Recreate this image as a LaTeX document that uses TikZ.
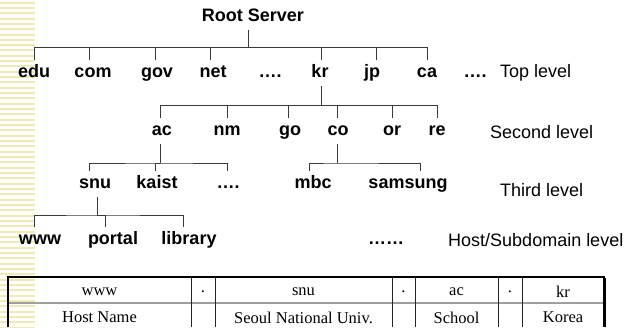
\documentclass[tikz,border=0pt]{standalone}
\usepackage{fontspec}
\setmainfont{Liberation Serif}
\setsansfont{Liberation Sans}
\usepackage{tikz}
\usetikzlibrary{arrows,positioning,calc}

\definecolor{stripe}{HTML}{EEEAB2}
\definecolor{treeline}{HTML}{3A3A3A}

\begin{document}
\begin{tikzpicture}[x=1pt,y=-1pt,
	dom/.style={font=\sffamily\bfseries\fontsize{18}{20}\selectfont, text height=13pt, text depth=4pt, inner xsep=1pt, inner ysep=4pt},
	lvl/.style={font=\sffamily\fontsize{18}{20}\selectfont, anchor=west, inner sep=0pt},
	cell/.style={font=\fontsize{16.5}{18}\selectfont, inner sep=0pt},
	branch/.style={draw=treeline, line width=0.9pt}]

		\useasboundingbox (0,0) rectangle (628,327);
		% striped margin
		\foreach \i in {0,...,61}
			\fill[stripe] (0,{1.5+\i*5.333}) rectangle (35,{3.5+\i*5.333});

		\node[dom] (root) at (253,17) {Root Server};

		% top level
		\node[dom] (edu) at (34,73) {edu};
		\node[dom] (com) at (93,73) {com};
		\node[dom] (gov) at (157,73) {gov};
		\node[dom] (net) at (213,73) {net};
		\node[dom] (dotsA) at (270,73) {….};
		\node[dom] (kr) at (320,73) {kr};
		\node[dom] (jp) at (372,73) {jp};
		\node[dom] (ca) at (427,73) {ca};
		\node[dom] (dotsB) at (475,73) {….};
		\node[lvl] (topLvl) at (500,73) {Top level};

		% second level
		\node[dom] (ac) at (162,131) {ac};
		\node[dom] (nm) at (227,131) {nm};
		\node[dom] (go) at (290,131) {go};
		\node[dom] (co) at (338,131) {co};
		\node[dom] (or) at (392,131) {or};
		\node[dom] (re) at (437,131) {re};
		\node[lvl] (secLvl) at (490,132) {Second level};

		% third level
		\node[dom] (snu) at (95,184) {snu};
		\node[dom] (kaist) at (157,184) {kaist};
		\node[dom] (dotsC) at (228,184) {….};
		\node[dom] (mbc) at (313,184) {mbc};
		\node[dom] (samsung) at (408,184) {samsung};
		\node[lvl] (thrLvl) at (500,190) {Third level};

		% hosts
		\node[dom] (www) at (40,240) {www};
		\node[dom] (portal) at (113,240) {portal};
		\node[dom] (library) at (189,240) {library};
		\node[dom] (dotsD) at (386,240) {……};
		\node[lvl] (hostLvl) at (448,240) {Host/Subdomain level};

		% branches
		\coordinate (j1) at (248,47);
		\coordinate (j2) at (321,105);
		\coordinate (j3) at (160,163);
		\coordinate (j4) at (337,163);
		\coordinate (j5) at (97,215);

		\draw[branch] (root.south -| j1) -- (j1);
		\draw[branch] (edu.north) |- (j1) -| (ca.north);
		\foreach \n/\s in {com/-4,gov/-2,net/-3,kr/1,jp/4}
			\draw[branch] ([xshift=\s pt]\n.north) |- (j1);

		\draw[branch] (kr.south -| j2) -- (j2);
		\draw[branch] ([xshift=-2pt]ac.north) |- (j2) -| (re.north);
		\foreach \n/\s in {nm/0,go/-2,co/-1,or/0}
			\draw[branch] ([xshift=\s pt]\n.north) |- (j2);

		\draw[branch] (ac.south -| j3) -- (j3);
		\draw[branch] ([xshift=-6pt]snu.north) |- (j3) -| ([xshift=-1pt]dotsC.north);
		\draw[branch] ([xshift=-2pt]kaist.north) |- (j3);

		\draw[branch] (co.south -| j4) -- (j4);
		\draw[branch] ([xshift=-4pt]mbc.north) |- (j4) -| ([xshift=12pt]samsung.north);

		\draw[branch] (snu.south -| j5) -- (j5);
		\draw[branch] ([xshift=-6pt]www.north) |- (j5) -| ([xshift=-6pt]library.north);
		\draw[branch] ([xshift=-8pt]portal.north) |- (j5);

		% name table
		\draw[gray!75, line width=1.4pt] (8,303) -- (604,303);
		\foreach \x in {191,215,392,415,498,522}
			\draw[black!85, line width=0.9pt] (\x,277) -- (\x,327);
		\draw[black, line width=1.6pt] (8,327) |- (604,277) -- (604,327);
		\draw[black, line width=1pt] (605.5,278) -- (605.5,327);

		\node[cell] (cWww) at (99.5,291.5) {www};
		\node[cell] (cDot1) at (203,291.5) {.};
		\node[cell] (cSnu) at (303.5,291.5) {snu};
		\node[cell] (cDot2) at (403.5,291.5) {.};
		\node[cell] (cAc) at (456.5,291.5) {ac};
		\node[cell] (cDot3) at (510,291.5) {.};
		\node[cell] (cKr) at (563,291.5) {kr};
		\node[cell] (cHost) at (99.5,317.5) {Host Name};
		\node[cell] (cUniv) at (303.5,317.5) {Seoul National Univ.};
		\node[cell] (cSchool) at (456.5,317.5) {School};
		\node[cell] (cKorea) at (563,317.5) {Korea};
	\end{tikzpicture}
\end{document}
